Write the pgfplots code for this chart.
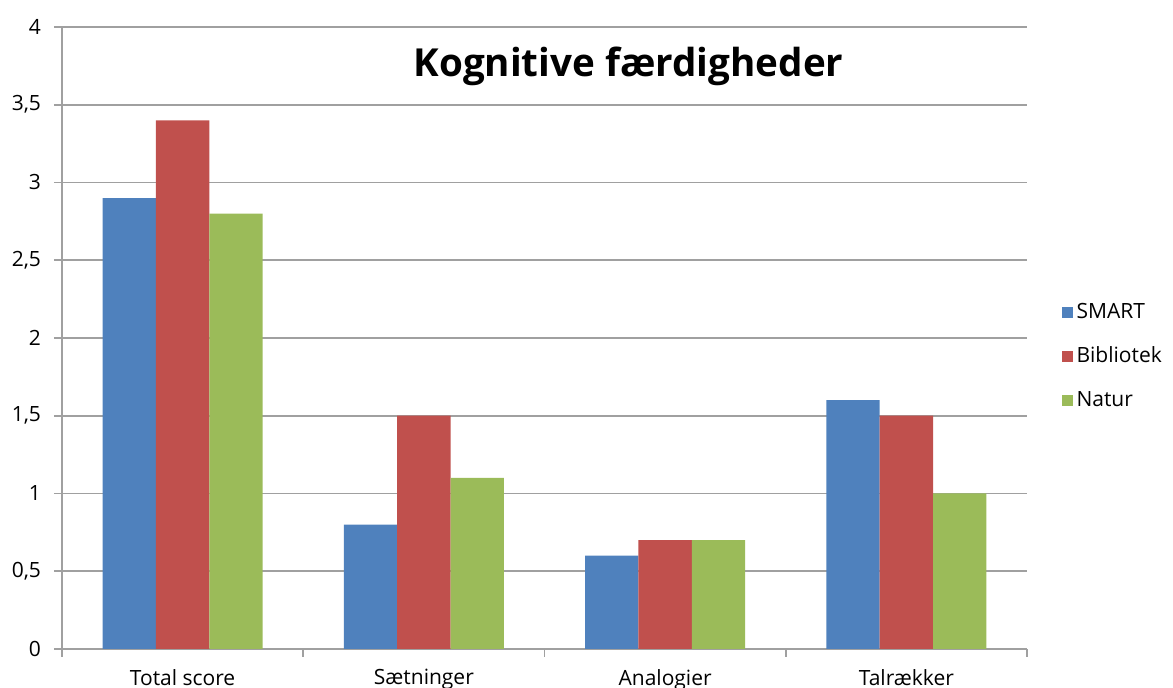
\documentclass[border=0pt]{standalone}
\usepackage{fontspec}
\setmainfont{Open Sans}
\usepackage{pgfplots}
\pgfplotsset{compat=1.18}

\definecolor{cblue}{HTML}{4F81BD}
\definecolor{cred}{HTML}{C0504D}
\definecolor{cgreen}{HTML}{9BBB59}
\definecolor{gridc}{HTML}{A0A0A0}

\pgfplotsset{
  sq/.style={legend image code/.code={\fill[##1] (0pt,-2.6pt) rectangle (5.2pt,2.6pt);}},
}

\begin{document}
\begin{tikzpicture}
\begin{axis}[
  name=ax,
  scale only axis,
  width=482.5pt, height=311pt,
  ybar=0pt, bar width=26.7pt,
  xmin=-0.5, xmax=3.5,
  ymin=0, ymax=4,
  ytick={0,0.5,...,4},
  xtick={-0.5,0.5,1.5,2.5,3.5},
  xticklabels={,,,,},
  extra x ticks={0,1,2,3},
  extra x tick labels={Total score, Sætninger, Analogier, Talrækker},
  extra x tick style={major tick length=0pt, xticklabel style={yshift=-6.5pt}},
  axis x line*=bottom, axis y line*=left,
  axis line style={gridc, line width=0.8pt},
  tick style={gridc, line width=0.8pt},
  tick align=outside, major tick length=4pt,
  ymajorgrids, grid style={gridc, line width=0.8pt},
  tick label style={font=\fontsize{10.5}{12.5}\selectfont, black},
  /pgf/number format/use comma,
  /pgf/number format/assume math mode=true,
  yticklabel style={xshift=-3pt},
  title={Kognitive færdigheder},
  title style={at={(0.587,0.918)}, anchor=center, font=\bfseries\fontsize{19.3}{23}\selectfont},
  legend style={draw=none, fill=none, at={(1.036,0.563)}, anchor=north west,
    inner sep=0pt, row sep=8.8pt, font=\fontsize{10.5}{12.5}\selectfont,
    nodes={xshift=3pt}},
  legend cell align=left,
]
\addplot[fill=cblue, draw=none, sq] coordinates {(0,2.9) (1,0.8) (2,0.6) (3,1.6)};
\addplot[fill=cred, draw=none, sq] coordinates {(0,3.4) (1,1.5) (2,0.7) (3,1.5)};
\addplot[fill=cgreen, draw=none, sq] coordinates {(0,2.8) (1,1.1) (2,0.7) (3,1.0)};
\legend{SMART, Bibliotek, Natur}
\end{axis}
\pgfresetboundingbox
\path[use as bounding box] ([shift={(-31pt,-19.5pt)}]ax.south west) rectangle ++(586.5pt,344pt);
\end{tikzpicture}
\end{document}
